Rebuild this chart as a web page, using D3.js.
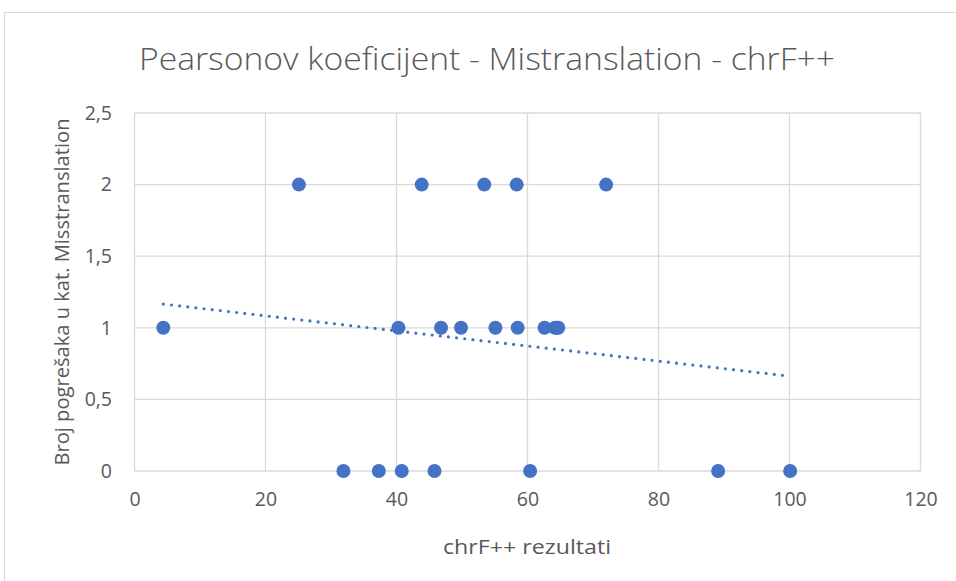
<!DOCTYPE html>
<html>
<head>
<meta charset="utf-8">
<script src="https://cdn.jsdelivr.net/npm/d3@7"></script>
<style>
  html, body { margin: 0; padding: 0; background: #fff; }
  svg { display: block; }
  text { font-family: "Open Sans", "Noto Sans", sans-serif; fill: #595959; }
</style>
</head>
<body>
<svg id="chart" width="956" height="581"></svg>
<script>
// chrF++ score per sentence and the number of Mistranslation errors found in it
const scores2 = [25.1, 43.85, 53.4, 58.35, 72.0];
const scores1 = [4.4, 40.3, 46.8, 49.85, 55.1, 58.5, 62.6, 64.2, 64.5, 64.7];
const scores0 = [31.9, 37.3, 40.8, 45.8, 60.4, 89.1, 100.1];
const errorLevels = [2, 1, 0];

const xTicks = [0, 20, 40, 60, 80, 100, 120];
const yTicks = [0, 0.5, 1, 1.5, 2, 2.5];

const titleText = "Pearsonov koeficijent - Mistranslation - chrF++";
const xTitle = "chrF++ rezultati";
const yTitle = "Broj pogrešaka u kat. Misstranslation";

const points = [];
[scores2, scores1, scores0].forEach((arr, i) => {
  arr.forEach(x => points.push({ x, y: errorLevels[i] }));
});

const svg = d3.select("#chart");
const W = 956, H = 581;
const plot = { left: 134.5, right: 920.5, top: 113, bottom: 471 };

// chart frame
svg.append("rect")
  .attr("x", 4.5).attr("y", 12.5)
  .attr("width", W + 10).attr("height", H + 10)
  .attr("fill", "#fff").attr("stroke", "#d9d9d9").attr("stroke-width", 1);

const x = d3.scaleLinear().domain([0, 120]).range([plot.left, plot.right]);
const y = d3.scaleLinear().domain([0, 2.5]).range([plot.bottom, plot.top]);

// gridlines
const grid = svg.append("g").attr("stroke", "#d9d9d9").attr("stroke-width", 1.3);
grid.selectAll("line.h").data(yTicks).join("line")
  .attr("x1", plot.left).attr("x2", plot.right)
  .attr("y1", d => y(d)).attr("y2", d => y(d));
grid.selectAll("line.v").data(xTicks).join("line")
  .attr("y1", plot.top).attr("y2", plot.bottom)
  .attr("x1", d => x(d)).attr("x2", d => x(d));

// axes (labels only)
const fmt = d => String(d).replace(".", ",");
const xAxis = svg.append("g")
  .attr("transform", `translate(0,${plot.bottom})`)
  .call(d3.axisBottom(x).tickValues(xTicks).tickFormat(fmt).tickSize(0).tickPadding(21.5));
const yAxis = svg.append("g")
  .attr("transform", `translate(${plot.left},0)`)
  .call(d3.axisLeft(y).tickValues(yTicks).tickFormat(fmt).tickSize(0).tickPadding(22.5));
[xAxis, yAxis].forEach(g => {
  g.select(".domain").remove();
  g.selectAll("text").attr("font-size", 19.5).attr("fill", "#595959")
    .attr("font-family", "\"Open Sans\", sans-serif");
});

// linear trendline (least squares)
const mx = d3.mean(points, d => d.x), my = d3.mean(points, d => d.y);
const sxy = d3.sum(points, d => (d.x - mx) * (d.y - my));
const sxx = d3.sum(points, d => (d.x - mx) ** 2);
const slope = sxy / sxx, intercept = my - slope * mx;
const [xmin, xmax] = d3.extent(points, d => d.x);

// markers
svg.append("g").selectAll("circle").data(points).join("circle")
  .attr("cx", d => x(d.x)).attr("cy", d => y(d.y))
  .attr("r", 7).attr("fill", "#4472C4");

svg.append("line")
  .attr("x1", x(xmin)).attr("y1", y(intercept + slope * xmin))
  .attr("x2", x(xmax)).attr("y2", y(intercept + slope * xmax))
  .attr("stroke", "#4472C4").attr("stroke-width", 3.2)
  .attr("stroke-linecap", "round").attr("stroke-dasharray", "0 8.2");

// titles
function fitText(sel, width) {
  sel.attr("textLength", width).attr("lengthAdjust", "spacingAndGlyphs");
}
svg.append("text")
  .attr("x", 487).attr("y", 70)
  .attr("text-anchor", "middle")
  .attr("font-size", 30.5)
  .attr("font-weight", 300)
  .text(titleText)
  .call(fitText, 696);

svg.append("text")
  .attr("x", 527).attr("y", 554)
  .attr("text-anchor", "middle")
  .attr("font-size", 20)
  .text(xTitle)
  .call(fitText, 168);

svg.append("text")
  .attr("transform", "translate(69,292) rotate(-90)")
  .attr("text-anchor", "middle")
  .attr("font-size", 20)
  .text(yTitle)
  .call(fitText, 347);
</script>
</body>
</html>
